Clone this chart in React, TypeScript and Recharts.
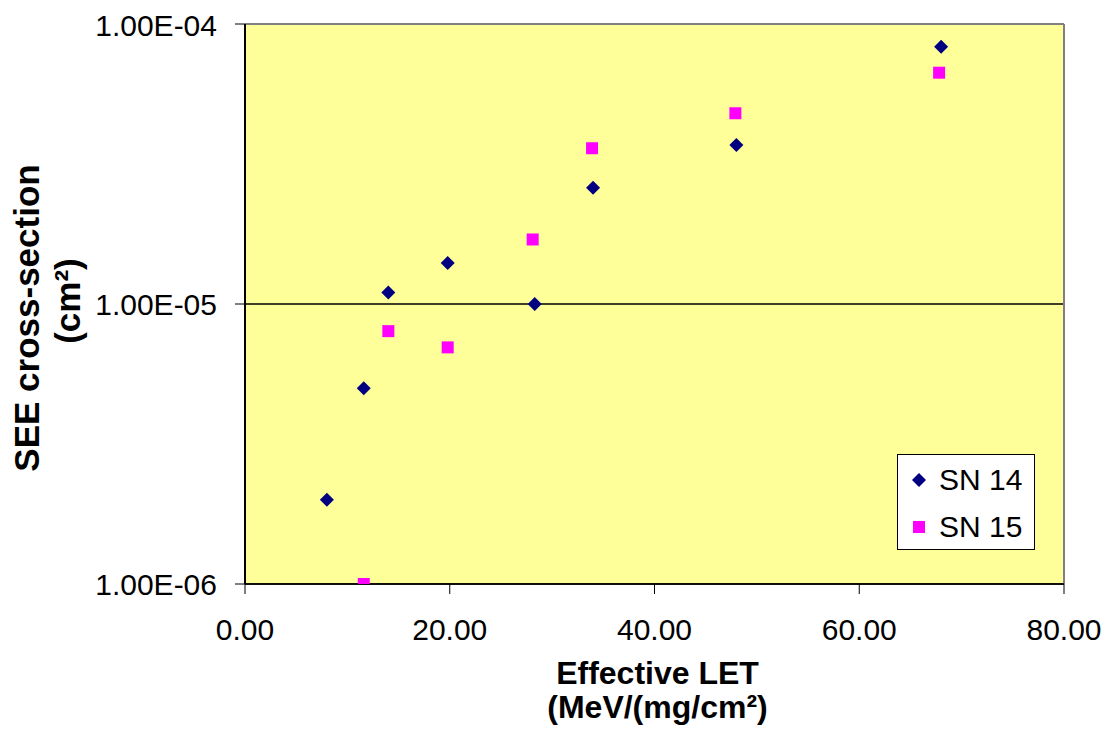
import React from 'react'
import {
  ScatterChart,
  Scatter,
  XAxis,
  YAxis,
  CartesianGrid,
  ReferenceLine,
  Legend,
} from 'recharts'

// Effective LET (MeV/(mg/cm²)) and SEE cross-section (cm²) per device
const sn14Let = [8.0, 11.6, 14.0, 19.8, 28.3, 34.0, 48.0, 68.0]
const sn14Sigma = [2.0e-6, 5.0e-6, 1.1e-5, 1.4e-5, 1.0e-5, 2.6e-5, 3.7e-5, 8.3e-5]
const sn15Let = [11.6, 14.0, 19.8, 28.1, 33.9, 47.9, 67.8]
const sn15Sigma = [1.0e-6, 8.0e-6, 7.0e-6, 1.7e-5, 3.6e-5, 4.8e-5, 6.7e-5]

const xTicks = [0, 20, 40, 60, 80]
const yTicks = [1e-6, 1e-5, 1e-4]
const yTickLabels = ['1.00E-06', '1.00E-05', '1.00E-04']

const sn14 = sn14Let.map((x, i) => ({ x, y: sn14Sigma[i] }))
const sn15 = sn15Let.map((x, i) => ({ x, y: sn15Sigma[i] }))

const FONT = '"Liberation Sans", Arial, sans-serif'
const NAVY = '#000080'
const MAGENTA = '#FF00FF'

function Diamond({ cx, cy }: { cx?: number; cy?: number }) {
  if (cx == null || cy == null) return null
  const r = 7
  return <polygon points={`${cx},${cy - r} ${cx + r},${cy} ${cx},${cy + r} ${cx - r},${cy}`} fill={NAVY} />
}

function Square({ cx, cy }: { cx?: number; cy?: number }) {
  if (cx == null || cy == null) return null
  const h = 6
  return <rect x={cx - h} y={cy - h} width={h * 2} height={h * 2} fill={MAGENTA} />
}

function XTitle({ viewBox }: any) {
  const cx = viewBox.x + viewBox.width / 2 + 3
  return (
    <text textAnchor="middle" fontFamily={FONT} fontWeight="bold" fontSize={32} fill="#000">
      <tspan x={cx} y={viewBox.y + 100}>Effective LET</tspan>
      <tspan x={cx} y={viewBox.y + 134}>(MeV/(mg/cm²)</tspan>
    </text>
  )
}

function YTitle({ viewBox }: any) {
  const mid = viewBox.y + viewBox.height / 2
  return (
    <g fontFamily={FONT} fontWeight="bold" fontSize={35} fill="#000">
      <text x={31} y={mid + 14} textAnchor="middle" transform={`rotate(-90, 31, ${mid + 14})`}>
        SEE cross-section
      </text>
      <text x={72} y={mid - 3} textAnchor="middle" transform={`rotate(-90, 72, ${mid - 3})`}>
        (cm²)
      </text>
    </g>
  )
}

function LegendBox({ payload }: any) {
  return (
    <div
      style={{
        width: 136,
        height: 94,
        border: '1px solid #000',
        background: '#fff',
        fontFamily: FONT,
        fontSize: 30,
        color: '#000',
        boxSizing: 'content-box',
      }}
    >
      {(payload || []).map((p: any, i: number) => (
        <div key={p.value} style={{ display: 'flex', alignItems: 'center', height: 47, marginTop: i === 0 ? 1 : 0 }}>
          <svg width={34} height={20} style={{ marginLeft: 7 }}>
            {i === 0 ? (
              <polygon points="14,3 21,10 14,17 7,10" fill={NAVY} />
            ) : (
              <rect x={8} y={4} width={12} height={12} fill={MAGENTA} />
            )}
          </svg>
          <span>{p.value}</span>
        </div>
      ))}
    </div>
  )
}

export default function App() {
  return (
    <div style={{ width: 1109, height: 725, background: '#fff' }}>
      <ScatterChart width={1109} height={725} margin={{ top: 16, right: 53, bottom: 0, left: 0 }}>
        <CartesianGrid
          vertical={false}
          stroke="#000"
          strokeWidth={1.5}
          fill="#FFFF99"
          fillOpacity={1}
        />
        <XAxis
          type="number"
          dataKey="x"
          domain={[0, 80]}
          ticks={xTicks}
          tickFormatter={(v: number) => v.toFixed(2)}
          tick={{ fontSize: 30, fill: '#000', fontFamily: FONT }}
          tickSize={10}
          tickMargin={25}
          height={149}
          axisLine={{ stroke: '#000', strokeWidth: 1.5 }}
          tickLine={{ stroke: '#000' }}
          allowDataOverflow
          label={(props: any) => <XTitle {...props} />}
        />
        <YAxis
          type="number"
          dataKey="y"
          scale="log"
          domain={[1e-6, 1e-4]}
          ticks={yTicks}
          tickFormatter={(v: number) => yTickLabels[yTicks.findIndex((t) => Math.abs(t - v) / t < 1e-6)] ?? ''}
          tick={{ fontSize: 30, fill: '#000', fontFamily: FONT }}
          tickSize={10}
          tickMargin={18}
          width={237}
          axisLine={{ stroke: '#000', strokeWidth: 2 }}
          tickLine={{ stroke: '#000' }}
          allowDataOverflow
          label={(props: any) => <YTitle {...props} />}
        />
        <ReferenceLine y={1e-4} stroke="#808080" strokeWidth={2} />
        <ReferenceLine x={80} stroke="#808080" strokeWidth={2} />
        <Scatter name="SN 14" data={sn14} fill={NAVY} shape={<Diamond />} isAnimationActive={false} />
        <Scatter name="SN 15" data={sn15} fill={MAGENTA} shape={<Square />} isAnimationActive={false} />
        <Legend
          layout="vertical"
          align="center"
          verticalAlign="middle"
          wrapperStyle={{ top: 446, left: 889, width: 138 }}
          content={(props: any) => <LegendBox {...props} />}
        />
      </ScatterChart>
    </div>
  )
}
